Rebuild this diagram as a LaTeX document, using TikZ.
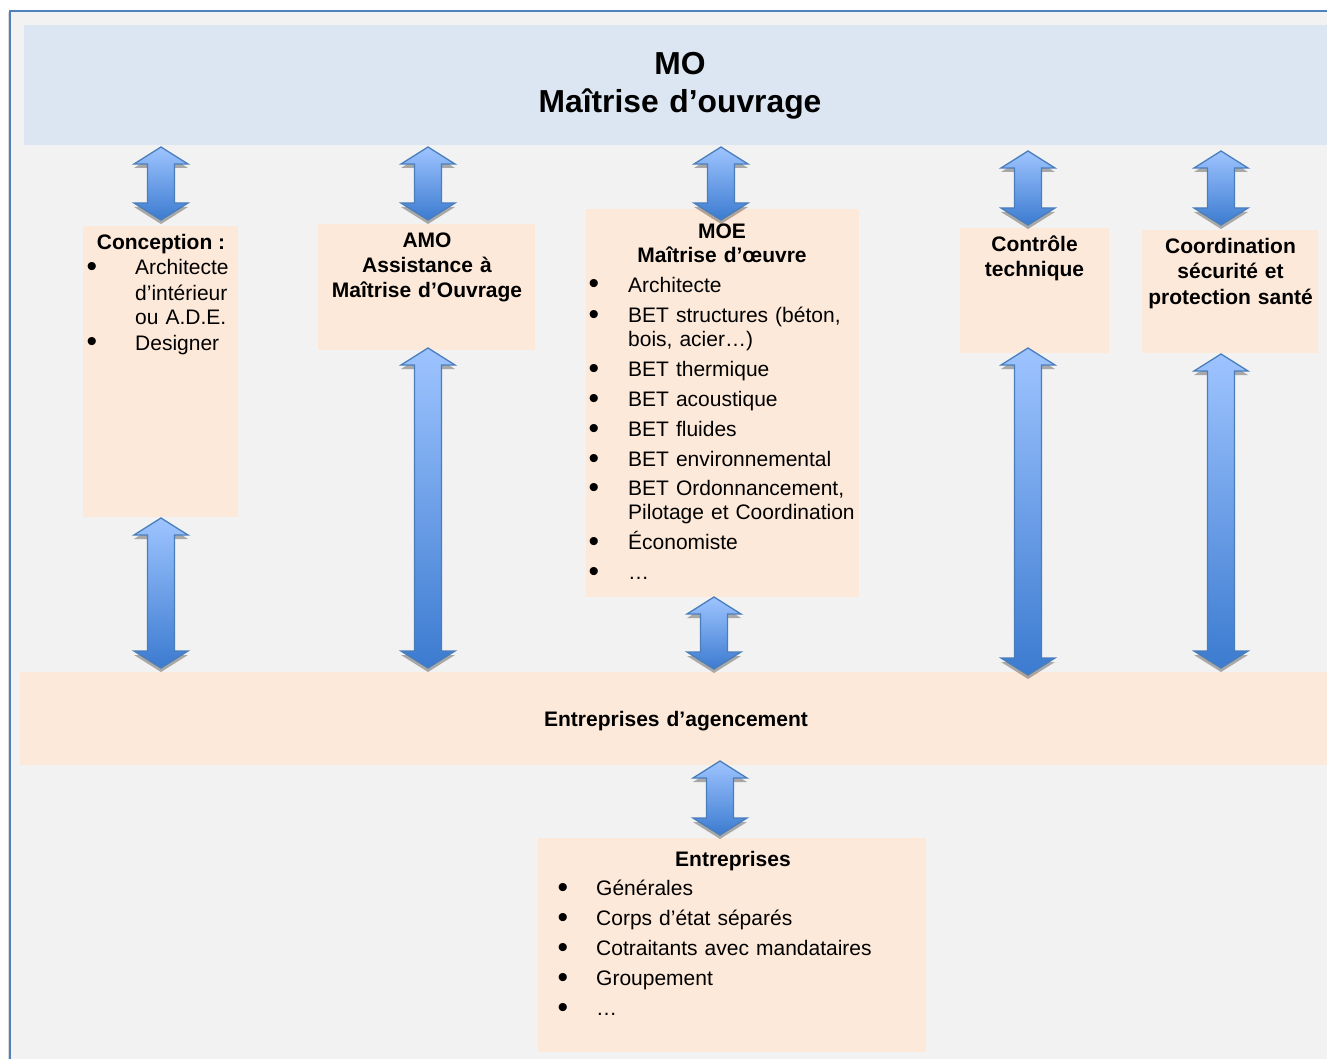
\documentclass[tikz,border=0pt]{standalone}
\usepackage{fontspec}
\setmainfont{Liberation Sans}
\usetikzlibrary{calc,shadows}
\definecolor{panelgrey}{HTML}{F2F2F2}
\definecolor{moblue}{HTML}{DCE6F2}
\definecolor{boxpeach}{HTML}{FDE9D9}
\definecolor{frameblue}{HTML}{4F81BD}
\definecolor{arrtop}{HTML}{9EC4FF}
\definecolor{arrbot}{HTML}{3C7BD0}
\definecolor{arredge}{HTML}{4A7EBB}
\newcommand\bul{{\fontsize{30}{24}\selectfont\raisebox{-1.5pt}{\textbullet}}}
\newcommand\itm[2]{\makebox[#1][l]{\bul}#2}
\newcommand\cnt[2]{\hspace*{#1}#2}
\newcommand\dblarrow[2]{%
  \path[fatarrow] let \p1=(#1), \p2=(#2) in
    (\x1,\y1) -- (\x1+27pt,\y1-17pt) -- (\x1+13.5pt,\y1-17pt) --
    (\x1+13.5pt,\y2+17pt) -- (\x1+27pt,\y2+17pt) -- (\x1,\y2) --
    (\x1-27pt,\y2+17pt) -- (\x1-13.5pt,\y2+17pt) --
    (\x1-13.5pt,\y1-17pt) -- (\x1-27pt,\y1-17pt) -- cycle;}
\begin{document}
\begin{tikzpicture}[x=1pt,y=-1pt,
  box/.style={fill=boxpeach, draw=none, inner sep=0pt},
  fatarrow/.style={top color=arrtop, bottom color=arrbot, draw=arredge,
    line width=1.3pt, line join=miter,
    drop shadow={shadow xshift=0pt, shadow yshift=-4pt, opacity=0.3, fill=black}},
  boldt/.style={font=\fontsize{21}{24.5}\selectfont\bfseries, inner sep=0pt, align=center},
  normt/.style={font=\fontsize{21}{24}\selectfont, inner sep=0pt, align=left, text width=330pt}]
\useasboundingbox (0,0) rectangle (1327,1059);
\clip (0,0) rectangle (1327,1059);
\fill[white] (0,0) rectangle (1327,1059);
% panel
\fill[panelgrey] (10,11) rectangle (1340,1070);
\draw[black!15, line width=1pt] (8,12) -- (8,1070);
\draw[frameblue, line width=2.5pt] (10,1070) -- (10,11) -- (1340,11);
% boxes
\node[box, fill=moblue, minimum width=1330pt, minimum height=120pt, anchor=north west] (mo) at (24,25) {};
\node[box, minimum width=155pt, minimum height=291pt, anchor=north west] (con) at (83,226) {};
\node[box, minimum width=217pt, minimum height=126pt, anchor=north west] (amo) at (318,224) {};
\node[box, minimum width=273pt, minimum height=388pt, anchor=north west] (moe) at (586,209) {};
\node[box, minimum width=149pt, minimum height=125pt, anchor=north west] (ct) at (960,228) {};
\node[box, minimum width=176pt, minimum height=123pt, anchor=north west] (csps) at (1142,230) {};
\node[box, minimum width=1330pt, minimum height=93pt, anchor=north west] (ea) at (20,672) {};
\node[box, minimum width=388pt, minimum height=214pt, anchor=north west] (ent) at (538,838) {};
% connector end points
\coordinate (a1t) at (161,147);  \coordinate (a1b) at (161,220);
\coordinate (a2t) at (428,147);  \coordinate (a2b) at (428,220);
\coordinate (a3t) at (721,147);  \coordinate (a3b) at (721,220);
\coordinate (a4t) at (1028,151); \coordinate (a4b) at (1028,225);
\coordinate (a5t) at (1221,151); \coordinate (a5b) at (1221,225);
\coordinate (a6t) at (161,518);  \coordinate (a6b) at (161,668);
\coordinate (a7t) at (428,348);  \coordinate (a7b) at (428,668);
\coordinate (a8t) at (714,597);  \coordinate (a8b) at (714,669);
\coordinate (a9t) at (1028,348); \coordinate (a9b) at (1028,675);
\coordinate (a10t) at (1221,354); \coordinate (a10b) at (1221,668);
\coordinate (a11t) at (720,761); \coordinate (a11b) at (720,835);
\dblarrow{a1t}{a1b}
\dblarrow{a2t}{a2b}
\dblarrow{a3t}{a3b}
\dblarrow{a4t}{a4b}
\dblarrow{a5t}{a5b}
\dblarrow{a6t}{a6b}
\dblarrow{a7t}{a7b}
\dblarrow{a8t}{a8b}
\dblarrow{a9t}{a9b}
\dblarrow{a10t}{a10b}
\dblarrow{a11t}{a11b}
% texts
\node[font=\fontsize{31.8}{38}\selectfont\bfseries, inner sep=0pt, align=center, text width=600pt, anchor=base] (motxt) at (680,75) {MO\\Maîtrise d’ouvrage};
\node[boldt, anchor=base] (contitle) at (161,250) {Conception :};
\node[normt, font=\fontsize{21}{25}\selectfont, anchor=base west] (conlist) at (86.5,275)
  {\itm{48.5pt}{Architecte}\\ \cnt{48.5pt}{d’intérieur}\\ \cnt{48.5pt}{ou A.D.E.}\\ \itm{48.5pt}{Designer}};
\node[boldt, text width=215pt, anchor=base] (amotxt) at (427,248) {AMO\\Assistance à\\Maîtrise d’Ouvrage};
\node[boldt, font=\fontsize{21}{24}\selectfont\bfseries, text width=260pt, anchor=base] (moetitle) at (722,238.5) {MOE\\Maîtrise d’œuvre};
\node[normt, anchor=base west] (moelist) at (588.5,292.5)
  {\itm{39.5pt}{Architecte}\\[6pt]
   \itm{39.5pt}{BET structures (béton,}\\ \cnt{39.5pt}{bois, acier…)}\\[6pt]
   \itm{39.5pt}{BET thermique}\\[6pt]
   \itm{39.5pt}{BET acoustique}\\[6pt]
   \itm{39.5pt}{BET fluides}\\[6pt]
   \itm{39.5pt}{BET environnemental}\\[5pt]
   \itm{39.5pt}{BET Ordonnancement,}\\ \cnt{39.5pt}{Pilotage et Coordination}\\[6pt]
   \itm{39.5pt}{Économiste}\\[6pt]
   \itm{39.5pt}{…}};
\node[boldt, text width=200pt, anchor=base] (cttxt) at (1034.5,252) {Contrôle\\technique};
\node[boldt, font=\fontsize{21}{25.5}\selectfont\bfseries, text width=200pt, anchor=base] (csptxt) at (1230.5,253.5) {Coordination\\sécurité et\\protection santé};
\node[boldt, text width=500pt, anchor=base] (eatxt) at (676,726.5) {Entreprises d’agencement};
\node[boldt, anchor=base] (enttitle) at (733,866.5) {Entreprises};
\node[normt, font=\fontsize{21}{30}\selectfont, anchor=base west] (entlist) at (557.5,895.5)
  {\itm{38.5pt}{Générales}\\
   \itm{38.5pt}{Corps d’état séparés}\\
   \itm{38.5pt}{Cotraitants avec mandataires}\\
   \itm{38.5pt}{Groupement}\\
   \itm{38.5pt}{…}};
\end{tikzpicture}
\end{document}
